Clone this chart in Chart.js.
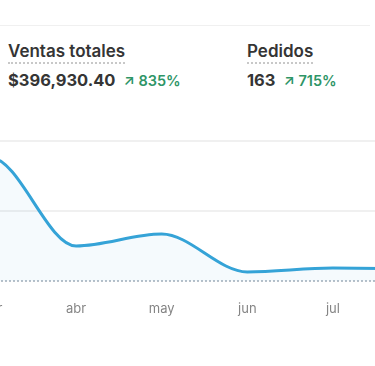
<!DOCTYPE html>
<html>
<head>
  <title>Ventas totales</title>
  <script src="https://cdn.jsdelivr.net/npm/chart.js"></script>
  <style>
    body {
      margin: 0;
      width: 375px;
      height: 366px;
      overflow: hidden;
      background: #fff;
      font-family: 'Inter', sans-serif;
      color: #353535;
      position: relative;
    }
    .topline {
      position: absolute;
      left: 0; top: 25px;
      width: 370px; height: 1px;
      background: #f0f0f0;
    }
    .metric {
      position: absolute;
      top: 41px;
    }
    .metric .label {
      font-size: 17px;
      font-weight: 600;
      padding-bottom: 1px;
      border-bottom: 2px dotted #c8c8c8;
      display: inline-block;
    }
    .metric .value {
      margin-top: 6px;
      font-size: 16.5px;
      font-weight: 700;
      white-space: nowrap;
    }
    .metric .delta {
      font-size: 14.5px;
      font-weight: 600;
      color: #2e9567;
      margin-left: 8px;
    }
    .chart-wrap {
      position: absolute;
      left: 0; top: 131px;
      width: 375px; height: 190px;
      overflow: hidden;
    }
    canvas {
      position: absolute;
      left: -125px; top: 0;
    }
  </style>
</head>
<body>
  <div class="topline"></div>

  <div class="metric" style="left:8px">
    <div class="label">Ventas totales</div>
    <div class="value">$396,930.40<span class="delta">&#8599; 835%</span></div>
  </div>
  <div class="metric" style="left:247px">
    <div class="label">Pedidos</div>
    <div class="value">163<span class="delta">&#8599; 715%</span></div>
  </div>

  <div class="chart-wrap">
    <canvas id="salesChart" width="575" height="190"></canvas>
  </div>

  <script>
    const months = ['feb', 'mar', 'abr', 'may', 'jun', 'jul', 'ago'];
    const ventas = [150000, 176000, 50000, 67000, 13000, 18500, 17000];
    const yTicks = [0, 100000, 200000];

    // dotted zero line, drawn at the y scale's 0
    const zeroLine = {
      id: 'zeroLine',
      beforeDatasetsDraw(chart) {
        const { ctx, chartArea, scales } = chart;
        const y = scales.y.getPixelForValue(0);
        ctx.save();
        ctx.strokeStyle = '#b8c1ca';
        ctx.lineWidth = 2;
        ctx.setLineDash([2, 2]);
        ctx.beginPath();
        ctx.moveTo(chartArea.left, y);
        ctx.lineTo(chartArea.right, y);
        ctx.stroke();
        ctx.restore();
      }
    };

    const ctx = document.getElementById('salesChart').getContext('2d');
    const chart = new Chart(ctx, {
      type: 'line',
      data: {
        labels: months,
        datasets: [{
          data: ventas,
          borderColor: '#35a3d7',
          backgroundColor: 'rgba(56,165,216,0.05)',
          borderWidth: 3,
          pointRadius: 0,
          fill: 'origin',
          cubicInterpolationMode: 'monotone'
        }]
      },
      options: {
        responsive: false,
        animation: false,
        layout: { padding: { left: 15, right: 15, top: 10, bottom: 0 } },
        plugins: {
          legend: { display: false },
          tooltip: { enabled: false }
        },
        scales: {
          x: {
            offset: false,
            grid: { display: false, drawTicks: false },
            border: { display: false },
            ticks: {
              padding: 20,
              color: '#858585',
              font: { family: 'Inter', size: 13 },
              autoSkip: false,
              maxRotation: 0
            },
            afterFit: axis => { axis.height = 40; }
          },
          y: {
            display: true,
            min: yTicks[0],
            max: yTicks[yTicks.length - 1],
            afterBuildTicks: axis => { axis.ticks = yTicks.map(v => ({ value: v })); },
            ticks: { display: false },
            grid: {
              drawTicks: false,
              lineWidth: 2,
              color: c => c.tick && c.tick.value === 0 ? 'rgba(0,0,0,0)' : '#f0f0f0'
            },
            border: { display: false },
            afterFit: axis => { axis.width = 0; }
          }
        }
      },
      plugins: [zeroLine]
    });
  </script>
</body>
</html>
